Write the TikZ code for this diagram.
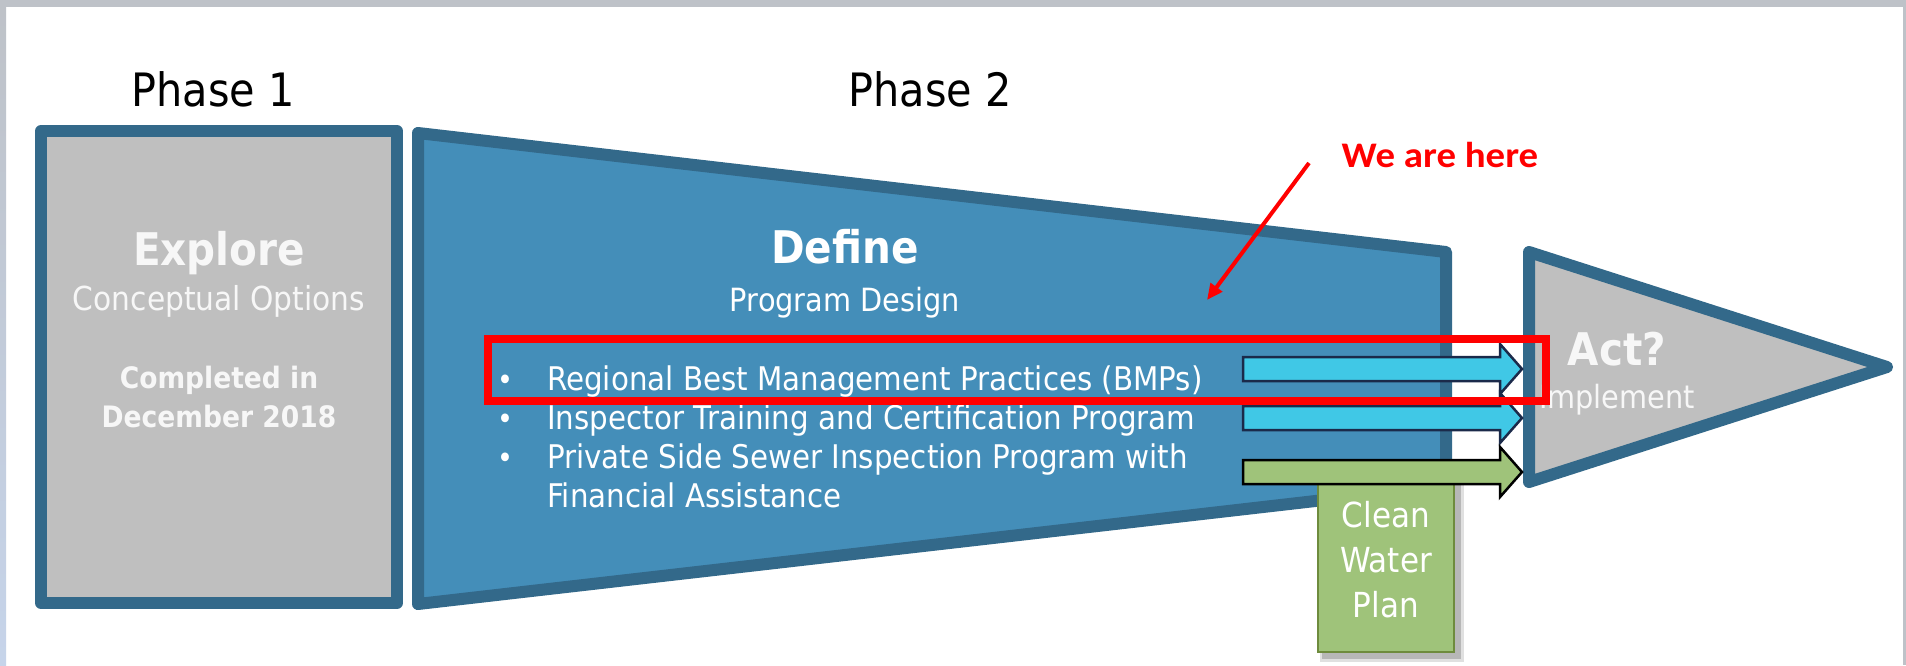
\documentclass[tikz,border=0pt]{standalone}
\usepackage{fontspec}
\usetikzlibrary{arrows.meta}
\newfontfamily\tahfont[FakeStretch=0.9]{DejaVu Sans}
\newfontfamily\calfont[FakeStretch=1.08]{Carlito}
\definecolor{edge}{HTML}{33698A}
\definecolor{greyfill}{HTML}{BFBFBF}
\definecolor{bluefill}{HTML}{448EB9}
\definecolor{cyanfill}{HTML}{40C8E6}
\definecolor{navy}{HTML}{1B2A4A}
\definecolor{greenfill}{HTML}{9FC37A}
\definecolor{greenedge}{HTML}{6E8B3D}
\definecolor{framegrey}{HTML}{BEC2C8}
\definecolor{frameblue}{HTML}{C6D4EA}
\definecolor{textwhite}{HTML}{F7F7F7}
\begin{document}
\begin{tikzpicture}[x=1pt,y=-1pt,
  phase/.style={line width=12pt, draw=edge, line join=round},
  lbl/.style={anchor=base, inner sep=0pt, text=black, font=\tahfont\fontsize{46}{50}\selectfont},
  titletxt/.style={anchor=base, inner sep=0pt, text=textwhite, font=\tahfont\bfseries\fontsize{45}{48}\selectfont},
  subtxt/.style={anchor=base, inner sep=0pt, text=textwhite, font=\tahfont\fontsize{33}{38}\selectfont},
  donetxt/.style={anchor=base, inner sep=0pt, text=textwhite, font=\tahfont\bfseries\fontsize{29.5}{32}\selectfont},
  bultxt/.style={anchor=base west, inner sep=0pt, text=white, font=\tahfont\fontsize{32.6}{38}\selectfont},
  bulmark/.style={anchor=base, inner sep=0pt, text=white, font=\tahfont\fontsize{30}{38}\selectfont},
  cwtxt/.style={anchor=base, inner sep=0pt, text=white, font=\tahfont\fontsize{34.5}{38}\selectfont},
  blockarrow/.pic={\path[pic actions] (0,-12) -- (257,-12) -- (257,-25) -- (279,0) -- (257,25) -- (257,12) -- (0,12) -- cycle;},
  cyanarrow/.style={draw=navy, fill=cyanfill, line width=2.5pt, line join=miter},
  greenarrow/.style={draw=black, fill=greenfill, line width=2.5pt, line join=miter}
]
\useasboundingbox (0,0) rectangle (1906,665);
\fill[white] (0,0) rectangle (1906,665);
% frame
\fill[framegrey] (0,0) rectangle (1906,7);
\shade[top color=framegrey, bottom color=frameblue] (0,7) rectangle (6,665);
\fill[framegrey] (1903,7) rectangle (1906,665);

% Phase 1 box
\path[phase, fill=greyfill] (41,131) rectangle (397,603);
% Phase 2 trapezoid
\path[phase, fill=bluefill] (418,133) -- (1446,252) -- (1446,486) -- (418,604) -- cycle;
% Act triangle
\path[phase, fill=greyfill] (1529,252) -- (1887,367) -- (1529,482) -- cycle;

% Clean Water Plan box with shadow
\fill[black, opacity=0.18] (1322,476) rectangle (1461,659);
\fill[black, opacity=0.12] (1320,474) rectangle (1464,662);
\path[draw=greenedge, fill=greenfill, line width=1.5pt] (1318,470) rectangle (1454,652);

% block arrows
\pic[cyanarrow] at (1243,369) {blockarrow};
\pic[cyanarrow] at (1243,418) {blockarrow};
\pic[greenarrow] at (1243,472) {blockarrow};

% phase labels
\node[lbl] (ph1) at (213,106) {Phase 1};
\node[lbl] (ph2) at (930,106) {Phase 2};

% Explore
\node[titletxt] (explore) at (219,265) {Explore};
\node[subtxt] (concept) at (219,310) {Conceptual Options};
\node[donetxt] (done1) at (219,388) {Completed in};
\node[donetxt] (done2) at (219,427) {December 2018};

% Define
\node[titletxt, text=white] (define) at (845,263) {Define};
\node[subtxt, text=white, font=\tahfont\fontsize{32}{38}\selectfont] (progdes) at (845,311) {Program Design};
\node[bulmark] (m1) at (505,390) {•};
\node[bulmark] (m2) at (505,429) {•};
\node[bulmark] (m3) at (505,468) {•};
\node[bultxt] (b1) at (547,390) {Regional Best Management Practices (BMPs)};
\node[bultxt] (b2) at (547,429) {Inspector Training and Certification Program};
\node[bultxt] (b3) at (547,468) {Private Side Sewer Inspection Program with};
\node[bultxt] (b4) at (547,507) {Financial Assistance};

% Act
\node[titletxt] (act) at (1617,365) {Act?};
\node[subtxt, font=\tahfont\fontsize{32}{38}\selectfont] (impl) at (1617,408) {Implement};

% Clean Water Plan
\node[cwtxt] (cw1) at (1386,527) {Clean};
\node[cwtxt] (cw2) at (1386,572) {Water};
\node[cwtxt] (cw3) at (1386,617) {Plan};

% red highlight
\draw[red, line width=8pt] (488,339) rectangle (1546,401);
\node[anchor=base, inner sep=0pt, text=red, font=\calfont\bfseries\fontsize{36}{40}\selectfont] (here) at (1440,167) {We are here};
\coordinate (redtail) at (1309,163);
\coordinate (redtip) at (1207,300);
\draw[red, line width=4pt, -{Triangle[length=16pt,width=14pt]}] (redtail) -- (redtip);
\end{tikzpicture}
\end{document}
